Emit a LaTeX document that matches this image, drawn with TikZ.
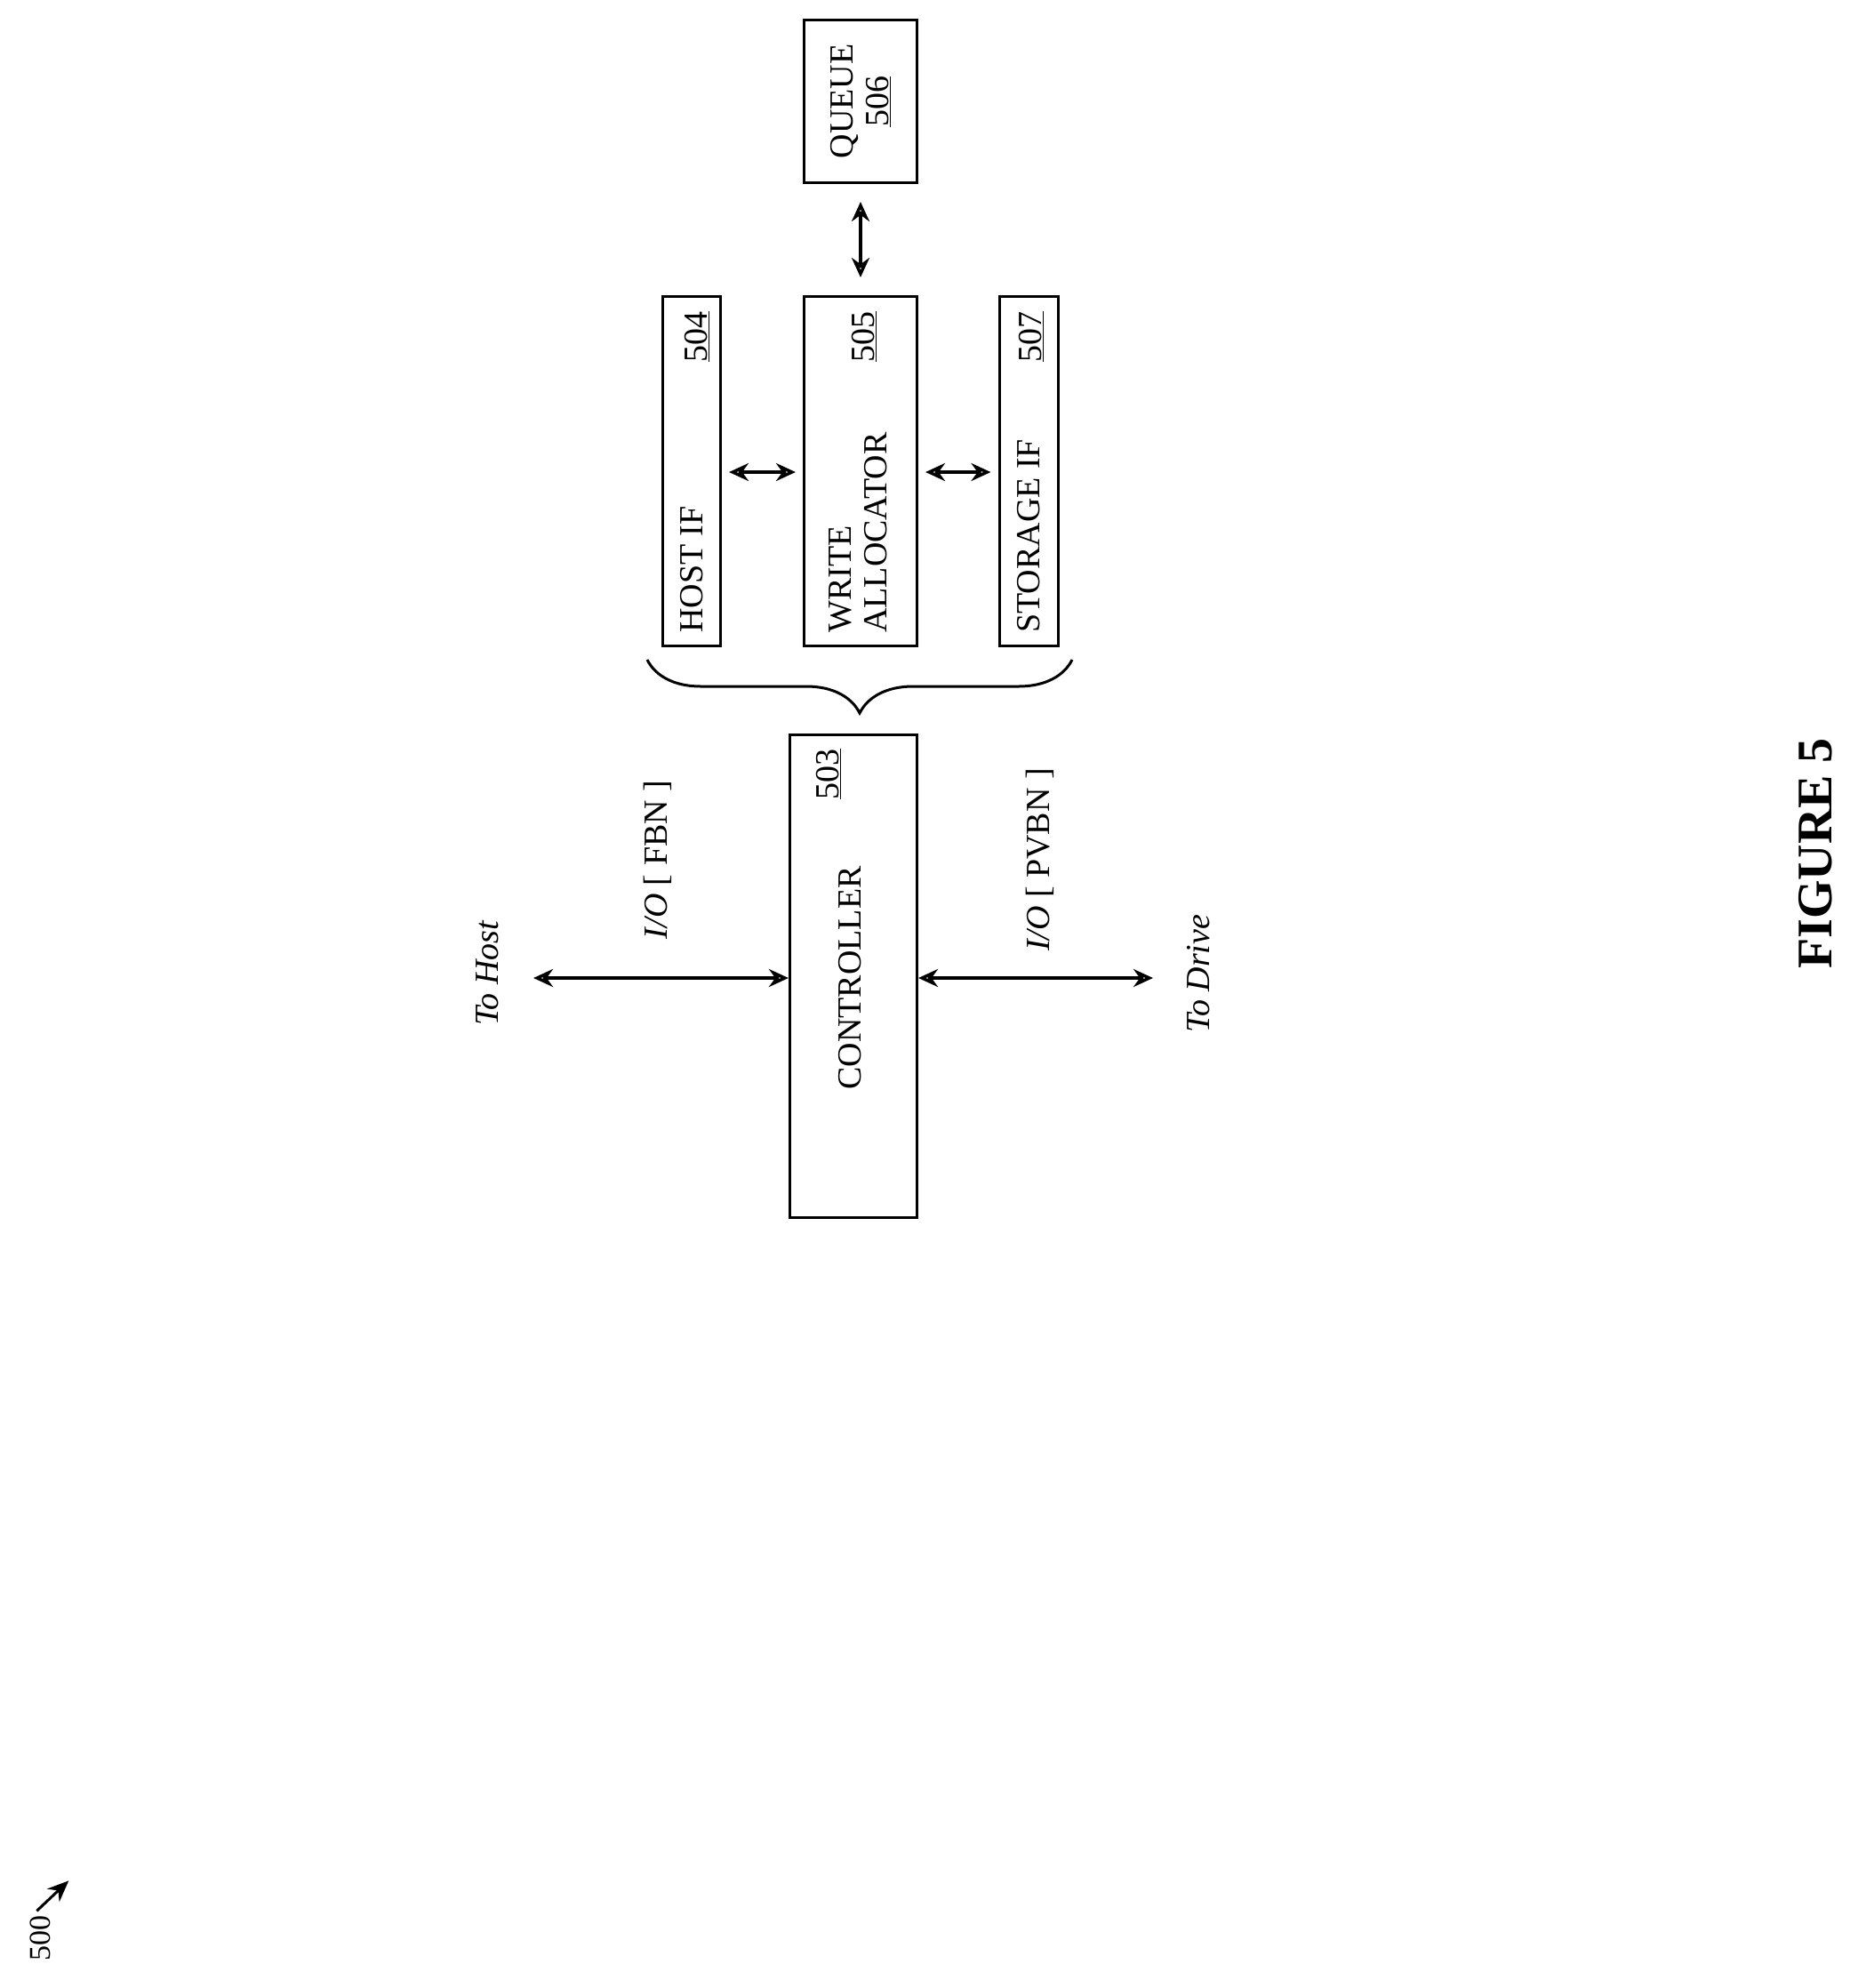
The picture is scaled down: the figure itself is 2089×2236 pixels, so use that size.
\documentclass[tikz,border=0pt]{standalone}
\usepackage{fontspec}
\setmainfont{Liberation Serif}
\usetikzlibrary{decorations.pathreplacing,arrows.meta}
\begin{document}
\begin{tikzpicture}[x=1pt,y=-1pt,
  box/.style={draw,line width=3pt,inner sep=0pt},
  conn/.style={line width=3.5pt,{Stealth[length=22pt,width=20pt,open]}-{Stealth[length=22pt,width=20pt,open]}},
  lbl/.style={rotate=90,font=\fontsize{38}{40}\selectfont,inner sep=0pt}]
\useasboundingbox (0,0) rectangle (2089,2236);
% boxes
\node[box,minimum width=127pt,minimum height=183pt] (queue) at (968,114) {};
\node[box,minimum width=65pt,minimum height=393pt] (host) at (778,530) {};
\node[box,minimum width=127pt,minimum height=393pt] (wa) at (968,530) {};
\node[box,minimum width=66pt,minimum height=393pt] (stor) at (1157,530) {};
\node[box,minimum width=143pt,minimum height=543pt] (ctrl) at (960,1098) {};
% box texts
\node[lbl,align=center] (qt) at (968,114) {QUEUE\\\underline{506}};
\node[lbl,anchor=west] (ht) at (778,712) {HOST IF};
\node[lbl,anchor=east] (hn) at (784,350) {\underline{504}};
\node[lbl,anchor=west,align=left] (wt) at (965,712) {WRITE\\ALLOCATOR};
\node[lbl,anchor=east] (wn) at (972,350) {\underline{505}};
\node[lbl,anchor=west] (st) at (1157,712) {STORAGE IF};
\node[lbl,anchor=east] (sn) at (1160,350) {\underline{507}};
\node[lbl] (ct) at (956,1100) {CONTROLLER};
\node[lbl,anchor=east] (cn) at (932,842) {\underline{503}};
% brace
\draw[line width=3pt,decorate,decoration={brace,amplitude=60pt}] (1206,742) -- (728,742);
% coordinates for free ends
\coordinate (hostend) at (600,1100);
\coordinate (driveend) at (1297,1100);
\draw[conn] (hostend) -- (ctrl.west |- hostend) ;
\draw[conn] (ctrl.east |- driveend) -- (driveend);
\draw[conn] ([xshift=8pt]host.east |- 0,531) -- ([xshift=-8pt]wa.west |- 0,531);
\draw[conn] ([xshift=8pt]wa.east |- 0,531) -- ([xshift=-8pt]stor.west |- 0,531);
\draw[conn] ([yshift=-20pt]queue.south) -- ([yshift=20pt]wa.north);
% labels
\node[lbl,font=\fontsize{38}{40}\selectfont\itshape] (toh) at (548,1095) {To Host};
\node[lbl] (io1) at (740,967) {\textit{I/O} [ FBN ]};
\node[lbl] (io2) at (1170,967) {\textit{I/O} [ PVBN ]};
\node[lbl,font=\fontsize{38}{40}\selectfont\itshape] (tod) at (1348,1095) {To Drive};
\node[lbl,font=\fontsize{56}{60}\selectfont\bfseries] (fig) at (2042,960) {FIGURE 5};
\node[lbl,font=\fontsize{34}{36}\selectfont] (n500) at (45,2180) {500};
\draw[line width=3pt,-{Stealth[length=24pt,width=20pt]}] (n500.north east) ++(8,-5) coordinate (a5) -- ++(36,-34);
\end{tikzpicture}
\end{document}
